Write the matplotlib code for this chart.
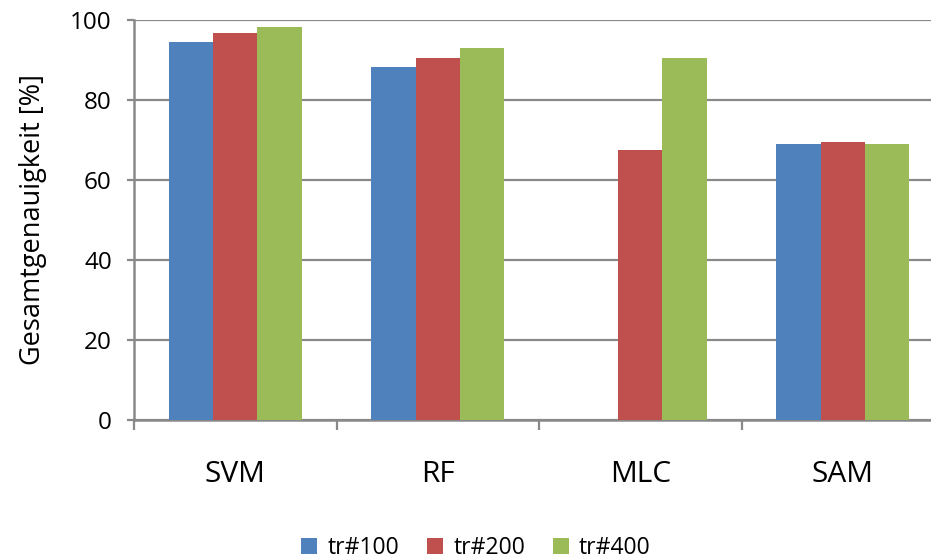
import numpy as np
import matplotlib.pyplot as plt
from matplotlib.ticker import FixedLocator

# classifiers and overall accuracy per training set size
classifiers = ['SVM', 'RF', 'MLC', 'SAM']
series_names = ['tr#100', 'tr#200', 'tr#400']
acc_tr100 = [94.5, 88.25, 0.0, 69.0]
acc_tr200 = [96.75, 90.5, 67.5, 69.5]
acc_tr400 = [98.25, 93.0, 90.5, 69.0]
yticks = [0, 20, 40, 60, 80, 100]

colors = ['#4F81BD', '#C0504D', '#9BBB59']
grey = '#898989'

plt.rcParams['font.family'] = ['Open Sans', 'DejaVu Sans']

fig = plt.figure(figsize=(9.31, 5.59), dpi=100)
ax = fig.add_axes([134 / 931, 1 - 420 / 559, 810 / 931, 400 / 559])

x = np.arange(len(classifiers))
w = 0.219
for i, (vals, name) in enumerate(zip([acc_tr100, acc_tr200, acc_tr400], series_names)):
    ax.bar(x + (i - 1) * w, vals, width=w, color=colors[i], label=name, zorder=3)

ax.set_xlim(-0.5, len(classifiers) - 0.5)
ax.set_ylim(0, 100)
ax.set_yticks(yticks)
ax.yaxis.grid(True, color=grey, linewidth=1.6, zorder=0)

ax.set_xticks(x)
ax.set_xticklabels(classifiers, fontsize=21.5)
ax.xaxis.set_minor_locator(FixedLocator(np.arange(-0.5, len(classifiers), 1.0)))
ax.tick_params(axis='x', which='major', length=0, pad=29)
ax.tick_params(axis='x', which='minor', length=7, width=1.6, color=grey)
ax.tick_params(axis='y', length=5, width=1.6, color=grey, labelsize=17.5, pad=11)

for s in ['top', 'right']:
    ax.spines[s].set_visible(False)
for s in ['left', 'bottom']:
    ax.spines[s].set_color(grey)
    ax.spines[s].set_linewidth(1.8)

ax.set_ylabel('Gesamtgenauigkeit [%]', fontsize=19.5, labelpad=17)

fig.legend(loc='center', bbox_to_anchor=(476 / 931, 1 - 548 / 559), ncol=3,
           frameon=False, fontsize=16.5, handlelength=0.7, handleheight=0.7,
           handletextpad=0.45, columnspacing=1.2)

fig.savefig('out.png', dpi=100)
